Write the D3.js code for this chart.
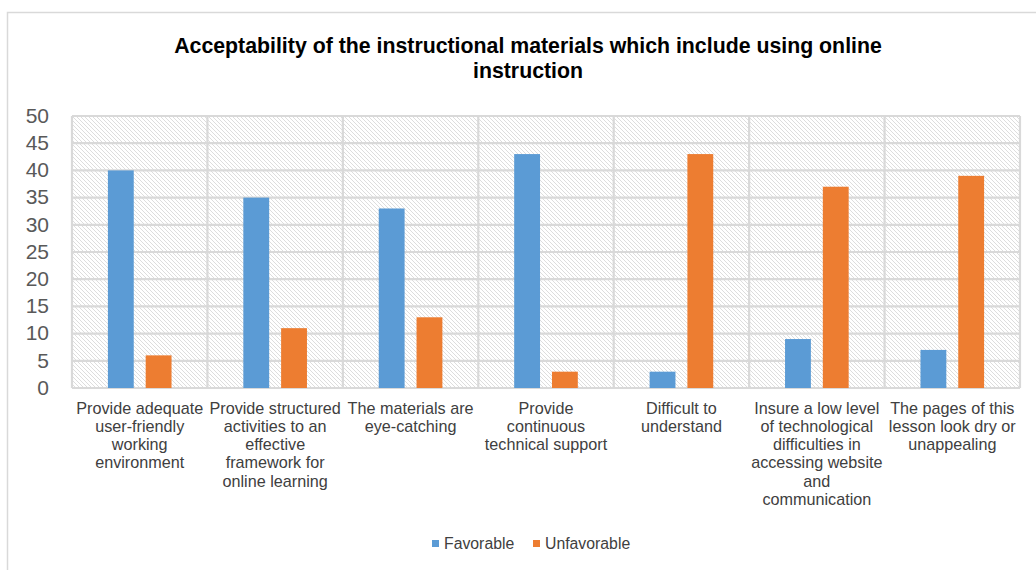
<!DOCTYPE html>
<html>
<head>
<meta charset="utf-8">
<script src="https://cdn.jsdelivr.net/npm/d3@7"></script>
<style>
  html, body { margin: 0; padding: 0; background: #fff; }
  svg { display: block; }
</style>
</head>
<body>
<svg id="chart" width="1036" height="570"></svg>
<script>
// Survey items (x-axis categories), each wrapped into display lines
const categories = [
  ["Provide adequate", "user-friendly", "working", "environment"],
  ["Provide structured", "activities to an", "effective", "framework for", "online learning"],
  ["The materials are", "eye-catching"],
  ["Provide", "continuous", "technical support"],
  ["Difficult to", "understand"],
  ["Insure a low level", "of technological", "difficulties in", "accessing website", "and", "communication"],
  ["The pages of this", "lesson look dry or", "unappealing"]
];
const seriesNames = ["Favorable", "Unfavorable"];
const favorable   = [40, 35, 33, 43, 3, 9, 7];
const unfavorable = [6, 11, 13, 3, 43, 37, 39];
const yTicks = [0, 5, 10, 15, 20, 25, 30, 35, 40, 45, 50];
const colors = ["#5b9bd5", "#ed7d31"];

const svg = d3.select("#chart");
const W = 1036, H = 570;
const plot = { left: 72, right: 1020, top: 116, bottom: 388 };

// Chart frame (top and left edges visible)
svg.append("path")
  .attr("d", `M7.5,${H} L7.5,12.5 L${W},12.5`)
  .attr("fill", "none")
  .attr("stroke", "#d9d9d9")
  .attr("stroke-width", 1.5);

// Title
svg.append("text")
  .attr("x", 528).attr("y", 53)
  .attr("text-anchor", "middle")
  .attr("font-family", "Liberation Sans, Arial, sans-serif")
  .attr("font-weight", "bold")
  .attr("font-size", 21.3)
  .attr("fill", "#000")
  .selectAll("tspan")
  .data(["Acceptability of the instructional materials which include using online", "instruction"])
  .join("tspan")
  .attr("x", 528)
  .attr("dy", (d, i) => i === 0 ? 0 : 25)
  .text(d => d);

// Scales
const x0 = d3.scaleBand()
  .domain(d3.range(categories.length))
  .range([plot.left, plot.right])
  .paddingInner(0).paddingOuter(0);
const x1 = d3.scaleBand()
  .domain(seriesNames)
  .range([0, x0.bandwidth()])
  .paddingInner(0.316)
  .paddingOuter(0.95);
const y = d3.scaleLinear().domain([0, 50]).range([plot.bottom, plot.top]);

// Hatched plot background
const defs = svg.append("defs");
const pat = defs.append("pattern")
  .attr("id", "hatch")
  .attr("patternUnits", "userSpaceOnUse")
  .attr("width", 4).attr("height", 4);
pat.append("rect").attr("width", 4).attr("height", 4).attr("fill", "#ffffff");
pat.append("path")
  .attr("d", "M-1,-1 L5,5 M-1,3 L1,5 M3,-1 L5,1")
  .attr("stroke", "#d4d4d4")
  .attr("stroke-width", 0.8);

svg.append("rect")
  .attr("x", plot.left).attr("y", plot.top)
  .attr("width", plot.right - plot.left)
  .attr("height", plot.bottom - plot.top)
  .attr("fill", "url(#hatch)");

// Gridlines
const grid = svg.append("g").attr("stroke", "#d9d9d9").attr("stroke-width", 2.2);
grid.selectAll("line.h")
  .data(yTicks)
  .join("line")
  .attr("class", "h")
  .attr("x1", plot.left).attr("x2", plot.right)
  .attr("y1", d => y(d)).attr("y2", d => y(d));
grid.selectAll("line.v")
  .data(d3.range(categories.length + 1))
  .join("line")
  .attr("class", "v")
  .attr("x1", i => i < categories.length ? x0(i) : plot.right)
  .attr("x2", i => i < categories.length ? x0(i) : plot.right)
  .attr("y1", plot.top).attr("y2", plot.bottom);

// Y axis
const yAxis = svg.append("g")
  .attr("transform", `translate(49,0)`)
  .call(d3.axisLeft(y).tickValues(yTicks).tickSize(0).tickPadding(0));
yAxis.select(".domain").remove();
yAxis.selectAll("text")
  .attr("font-family", "Liberation Sans, Arial, sans-serif")
  .attr("font-size", 21)
  .attr("fill", "#595959")
  .attr("dy", "0.3em");

// Bars
const rows = categories.map((c, i) => [
  { key: seriesNames[0], value: favorable[i], i },
  { key: seriesNames[1], value: unfavorable[i], i }
]);
svg.append("g")
  .selectAll("g")
  .data(rows)
  .join("g")
  .attr("transform", (d, i) => `translate(${x0(i)},0)`)
  .selectAll("rect")
  .data(d => d)
  .join("rect")
  .attr("x", d => x1(d.key))
  .attr("width", x1.bandwidth())
  .attr("y", d => y(d.value))
  .attr("height", d => y(0) - y(d.value))
  .attr("fill", (d, j) => colors[j]);

// X axis labels
const xAxis = svg.append("g")
  .attr("font-family", "Liberation Sans, Arial, sans-serif")
  .attr("font-size", 16.2)
  .attr("fill", "#404040")
  .attr("text-anchor", "middle");
xAxis.selectAll("text")
  .data(categories)
  .join("text")
  .attr("x", (d, i) => x0(i) + x0.bandwidth() / 2)
  .attr("y", 413.5)
  .selectAll("tspan")
  .data(d => d)
  .join("tspan")
  .attr("x", function () { return d3.select(this.parentNode).attr("x"); })
  .attr("dy", (d, k) => k === 0 ? 0 : 18.3)
  .text(d => d);

// Legend
const legend = svg.append("g")
  .attr("font-family", "Liberation Sans, Arial, sans-serif")
  .attr("font-size", 15.8)
  .attr("fill", "#404040");
const legendX = [432, 533];
const items = legend.selectAll("g")
  .data(seriesNames)
  .join("g")
  .attr("transform", (d, i) => `translate(${legendX[i]},537)`);
items.append("rect")
  .attr("width", 7).attr("height", 7)
  .attr("y", 3)
  .attr("fill", (d, i) => colors[i]);
items.append("text")
  .attr("x", 12).attr("y", 12)
  .text(d => d);
</script>
</body>
</html>
